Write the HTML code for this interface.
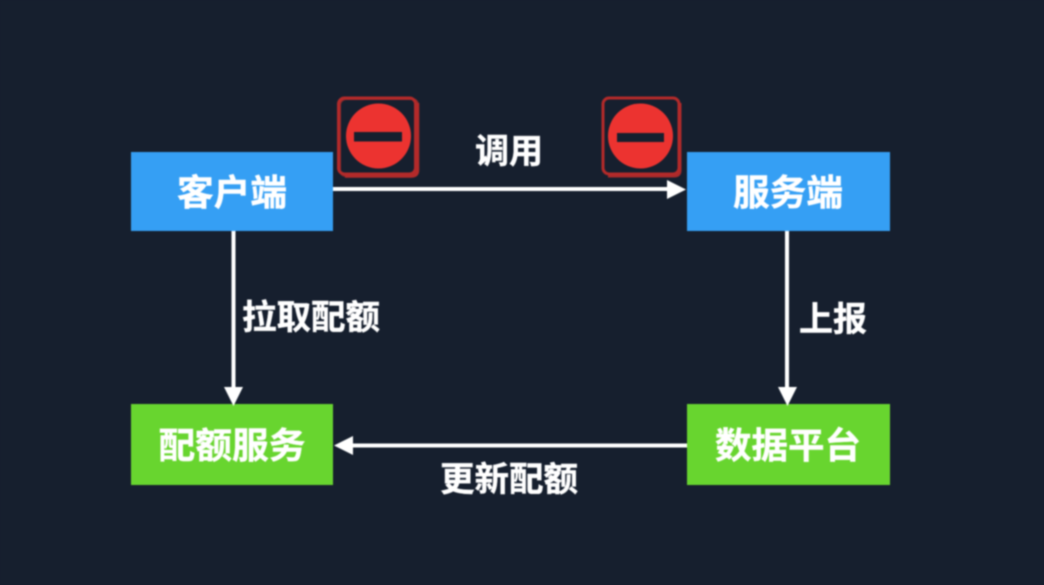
<!DOCTYPE html>
<html>
<head>
<meta charset="utf-8">
<style>
html,body{margin:0;padding:0;background:#161f2e;}
body{width:1044px;height:585px;overflow:hidden;position:relative;}
svg{position:absolute;left:0;top:0;filter:blur(0.7px);}
text{font-family:"Liberation Sans","Noto Sans CJK SC",sans-serif;font-weight:700;fill:#fff;stroke:#fff;stroke-width:0.4px;text-anchor:middle;}
</style>
</head>
<body>
<svg width="1044" height="585" viewBox="0 0 1044 585" xmlns="http://www.w3.org/2000/svg">
<rect width="1044" height="585" fill="#161f2e"/>
<!-- boxes -->
<rect x="131" y="152" width="202" height="79" fill="#359ff4"/>
<rect x="687" y="152" width="203" height="79" fill="#359ff4"/>
<rect x="131" y="404" width="202" height="81" fill="#68d52f"/>
<rect x="687" y="404" width="203" height="81" fill="#68d52f"/>
<!-- connectors -->
<line x1="333" y1="189" x2="670" y2="189" stroke="#fff" stroke-width="4"/>
<polygon points="667,180 686,189.500 667,199" fill="#fff"/>
<line x1="233.500" y1="231" x2="233.500" y2="390" stroke="#fff" stroke-width="4"/>
<polygon points="224,387 243,387 233.500,406" fill="#fff"/>
<line x1="787" y1="231" x2="787" y2="390" stroke="#fff" stroke-width="4"/>
<polygon points="778,387 797,387 787.500,406" fill="#fff"/>
<line x1="350" y1="445.500" x2="687" y2="445.500" stroke="#fff" stroke-width="4"/>
<polygon points="353,436 353,455 334,445.500" fill="#fff"/>
<!-- stop icons -->
<rect x="340" y="99" width="78" height="77" rx="6" fill="none" stroke="#8f2a2c" stroke-width="2"/>
<path d="M417.500 103V170Q417.500 176 411 176H345" fill="none" stroke="#b32a2a" stroke-width="3.500"/>
<rect x="338.500" y="98" width="77" height="76" rx="6" fill="none" stroke="#b32a2a" stroke-width="3"/>
<circle cx="378.500" cy="136" r="32.500" fill="#ec3330"/>
<rect x="354" y="132" width="48" height="9.500" fill="#161f2e"/>
<path d="M680 103V170Q680 176 674 176H608" fill="none" stroke="#a82a2b" stroke-width="3"/>
<rect x="603" y="98" width="76" height="76" rx="6" fill="none" stroke="#b32a2a" stroke-width="3"/>
<circle cx="640.500" cy="136" r="32.500" fill="#ec3330"/>
<rect x="617" y="133" width="47" height="9" fill="#161f2e"/>
<!-- labels -->
<text x="232" y="205" font-size="36" textLength="110" lengthAdjust="spacingAndGlyphs">客户端</text>
<text x="788" y="205" font-size="36" textLength="110" lengthAdjust="spacingAndGlyphs">服务端</text>
<text x="232" y="458" font-size="36" textLength="147" lengthAdjust="spacingAndGlyphs">配额服务</text>
<text x="788" y="458" font-size="36" textLength="146" lengthAdjust="spacingAndGlyphs">数据平台</text>
<text x="509" y="163" font-size="34" textLength="68" lengthAdjust="spacingAndGlyphs">调用</text>
<text x="311" y="329" font-size="34" textLength="138" lengthAdjust="spacingAndGlyphs">拉取配额</text>
<text x="833" y="331" font-size="34" textLength="68" lengthAdjust="spacingAndGlyphs">上报</text>
<text x="509" y="491" font-size="34" textLength="138" lengthAdjust="spacingAndGlyphs">更新配额</text>
</svg>
</body>
</html>
